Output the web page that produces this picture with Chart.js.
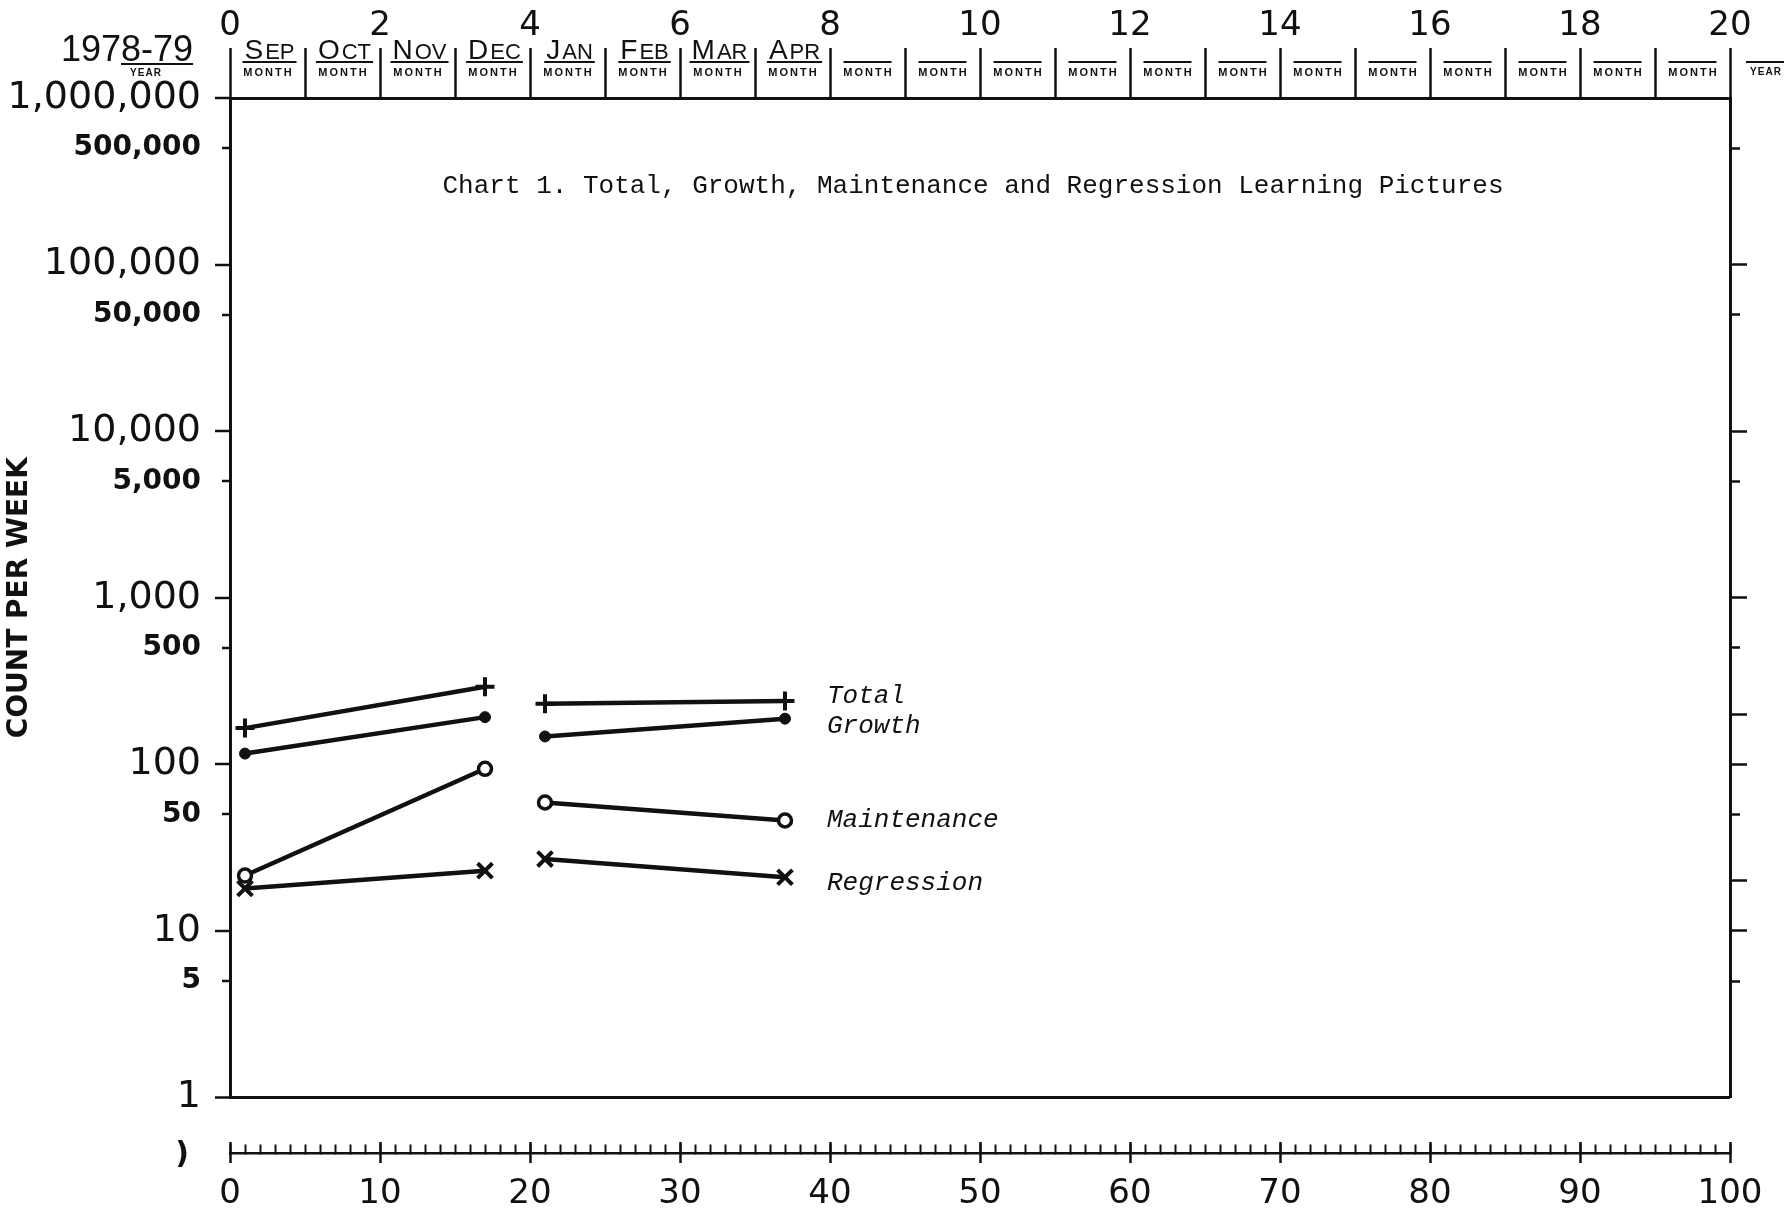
<!DOCTYPE html>
<html>
<head>
<meta charset="utf-8">
<script src="https://cdn.jsdelivr.net/npm/chart.js@4.4.1/dist/chart.umd.min.js"></script>
<style>
  html, body { margin: 0; padding: 0; background: #fff; }
  #wrap { width: 1787px; height: 1208px; }
</style>
</head>
<body>
<div id="wrap"><canvas id="chart" width="1787" height="1208"></canvas></div>
<script>
// Weeks on which the counts were taken (fall phase, then spring phase)
const weeks = [1, 17, 21, 37];
const phaseBreakAfter = 1;          // line is interrupted between these two phases

// Learning pictures counted per week
const totalCounts       = [165, 292, 231, 240];
const growthCounts      = [116, 192, 147, 188];
const maintenanceCounts = [21.5, 94, 59, 46];
const regressionCounts  = [18, 23, 27, 21];

const seriesNames = ['Total', 'Growth', 'Maintenance', 'Regression'];

// Count axis
const countTicks = [1, 5, 10, 50, 100, 500, 1000, 5000, 10000, 50000, 100000, 500000, 1000000];
const countTickLabels = ['1', '5', '10', '50', '100', '500', '1,000', '5,000', '10,000',
                         '50,000', '100,000', '500,000', '1,000,000'];
const rightTicks = [5, 10, 20, 50, 100, 200, 500, 1000, 5000, 10000, 50000, 100000, 500000];
const rightLongTicks = [10, 20, 100, 200, 1000, 10000, 100000];

// Time axes
const weekLabels = ['0', '10', '20', '30', '40', '50', '60', '70', '80', '90', '100'];
const monthNumberLabels = ['0', '2', '4', '6', '8', '10', '12', '14', '16', '18', '20'];
const monthNames = ['Sep', 'Oct', 'Nov', 'Dec', 'Jan', 'Feb', 'Mar', 'Apr'];
const monthSlots = 20;
const schoolYear = '1978-79';
const chartTitle = 'Chart 1. Total, Growth, Maintenance and Regression Learning Pictures';

const ink = '#111';

function toPoints(values) {
  const pts = [];
  values.forEach((v, i) => {
    pts.push({ x: weeks[i], y: v });
    if (i === phaseBreakAfter) {
      pts.push({ x: (weeks[i] + weeks[i + 1]) / 2, y: null });
    }
  });
  return pts;
}

function isDecade(v) {
  const l = Math.log10(v);
  return Math.abs(l - Math.round(l)) < 1e-9;
}

// Typed annotations: title, series names, month headings
const chartText = {
  id: 'chartText',
  afterDraw(chart, args, opts) {
    const ctx = chart.ctx;
    const xs = chart.scales.x, ys = chart.scales.y, xt = chart.scales.xt;
    ctx.save();
    ctx.fillStyle = ink;
    ctx.strokeStyle = ink;

    // title
    ctx.font = '26px "Liberation Mono"';
    ctx.textAlign = 'center';
    ctx.textBaseline = 'middle';
    ctx.fillText(chartTitle, 973, 186);

    // series names to the right of the last points
    ctx.font = 'italic 26px "Liberation Mono"';
    ctx.textAlign = 'left';
    opts.labels.forEach((lab, i) => {
      ctx.fillText(seriesNames[i], xs.getPixelForValue(lab.week), ys.getPixelForValue(lab.count));
    });

    // month heading boxes
    ctx.lineWidth = 2;
    for (let i = 0; i < monthSlots; i++) {
      const cx = (xt.getPixelForValue(i) + xt.getPixelForValue(i + 1)) / 2;
      const name = monthNames[i];
      ctx.letterSpacing = '0px';
      if (name) {
        const first = name[0], rest = name.slice(1).toUpperCase();
        ctx.textAlign = 'left';
        ctx.textBaseline = 'alphabetic';
        ctx.font = '28px "Liberation Sans"';
        const w1 = ctx.measureText(first).width;
        ctx.font = '22px "Liberation Sans"';
        const w2 = ctx.measureText(rest).width;
        const left = cx - (w1 + w2 + 2) / 2 + 2;
        ctx.font = '28px "Liberation Sans"';
        ctx.fillText(first, left, 59);
        ctx.font = '22px "Liberation Sans"';
        ctx.fillText(rest, left + w1 + 2, 59);
        ctx.beginPath();
        ctx.moveTo(left - 2, 62);
        ctx.lineTo(left + w1 + w2 + 4, 62);
        ctx.stroke();
      } else {
        ctx.beginPath();
        ctx.moveTo(cx - 24, 62);
        ctx.lineTo(cx + 24, 62);
        ctx.stroke();
      }
      ctx.font = 'bold 11px "Liberation Sans"';
      ctx.letterSpacing = '2px';
      ctx.textAlign = 'center';
      ctx.textBaseline = 'middle';
      ctx.fillText('MONTH', cx + 1, 73);
    }

    // school year box on the left
    ctx.letterSpacing = '0px';
    ctx.font = '36px "Liberation Sans"';
    ctx.textAlign = 'left';
    ctx.textBaseline = 'alphabetic';
    const yw = ctx.measureText(schoolYear).width;
    const yl = 127 - yw / 2;
    ctx.fillText(schoolYear, yl, 61);
    const uStart = yl + ctx.measureText(schoolYear.slice(0, 3)).width;
    ctx.beginPath();
    ctx.moveTo(uStart, 64);
    ctx.lineTo(yl + yw, 64);
    ctx.stroke();
    ctx.font = 'bold 10px "Liberation Sans"';
    ctx.letterSpacing = '1px';
    ctx.textAlign = 'center';
    ctx.textBaseline = 'middle';
    ctx.fillText('YEAR', 146, 73);

    // empty year box on the right
    ctx.beginPath();
    ctx.moveTo(1746, 62);
    ctx.lineTo(1784, 62);
    ctx.stroke();
    ctx.fillText('YEAR', 1766, 72);

    // bracket at the start of the week axis
    ctx.letterSpacing = '0px';
    ctx.font = 'bold 30px "DejaVu Sans"';
    ctx.fillText(')', 182, 1155);

    ctx.restore();
  }
};

const chart = new Chart(document.getElementById('chart'), {
  type: 'line',
  data: {
    datasets: [
      { label: seriesNames[0], data: toPoints(totalCounts), xAxisID: 'x', yAxisID: 'y',
        borderColor: ink, backgroundColor: ink, borderWidth: 4.5,
        pointStyle: 'cross', pointRadius: 9.5, pointBorderWidth: 4 },
      { label: seriesNames[1], data: toPoints(growthCounts), xAxisID: 'x', yAxisID: 'y',
        borderColor: ink, backgroundColor: ink, borderWidth: 4.5,
        pointStyle: 'circle', pointRadius: 5.5, pointBorderWidth: 1, pointBackgroundColor: ink },
      { label: seriesNames[2], data: toPoints(maintenanceCounts), xAxisID: 'x', yAxisID: 'y',
        borderColor: ink, backgroundColor: '#fff', borderWidth: 4.5,
        pointStyle: 'circle', pointRadius: 6.5, pointBorderWidth: 3.5, pointBackgroundColor: '#fff' },
      { label: seriesNames[3], data: toPoints(regressionCounts), xAxisID: 'x', yAxisID: 'y',
        borderColor: ink, backgroundColor: ink, borderWidth: 4.5,
        pointStyle: 'crossRot', pointRadius: 10.5, pointBorderWidth: 4 }
    ]
  },
  options: {
    responsive: false,
    animation: false,
    events: [],
    spanGaps: false,
    layout: { autoPadding: false, padding: { left: 0, right: 0, top: 0, bottom: 110.5 } },
    plugins: {
      legend: { display: false },
      tooltip: { enabled: false },
      chartText: {
        labels: [
          { week: 39.8, count: 258 },
          { week: 39.8, count: 170 },
          { week: 39.8, count: 46.5 },
          { week: 39.8, count: 19.4 }
        ]
      }
    },
    scales: {
      x: { type: 'linear', min: 0, max: 100, display: false },
      xt: {
        type: 'linear', position: 'top', min: 0, max: monthSlots,
        afterBuildTicks: s => { s.ticks = Array.from({ length: monthSlots + 1 }, (_, i) => ({ value: i })); },
        afterFit: s => { s.height = 98; },
        border: { display: true, color: ink, width: 3 },
        grid: { drawOnChartArea: false, tickLength: 50, color: ink, tickColor: ink, tickWidth: 2.5 },
        ticks: {
          autoSkip: false, maxRotation: 0, minRotation: 0, padding: 1, color: ink,
          font: { family: 'DejaVu Sans', size: 34 },
          callback: v => (v % 2 === 0 ? monthNumberLabels[v / 2] : '')
        }
      },
      // minor week ticks standing on the axis line
      xb: {
        type: 'linear', position: { y: 0.4642 }, min: 0, max: 100,
        afterBuildTicks: s => { s.ticks = Array.from({ length: 101 }, (_, i) => ({ value: i })); },
        border: { display: true, color: ink, width: 2.5 },
        grid: { drawOnChartArea: false, tickLength: -10, color: ink, tickColor: ink, tickWidth: 2 },
        ticks: { display: false, autoSkip: false }
      },
      // every tenth week: tick crossing the line, with its number
      xm: {
        type: 'linear', position: { y: 0.5407 }, min: 0, max: 100,
        afterBuildTicks: s => { s.ticks = weekLabels.map((_, i) => ({ value: i * 10 })); },
        border: { display: false },
        grid: { drawOnChartArea: false, tickLength: 21, color: ink, tickColor: ink, tickWidth: 2.5 },
        ticks: {
          autoSkip: false, maxRotation: 0, minRotation: 0, padding: 11, color: ink,
          font: { family: 'DejaVu Sans', size: 34 },
          callback: (v, i) => weekLabels[i]
        }
      },
      y: {
        type: 'logarithmic', position: 'left', min: 1, max: 1000000,
        afterBuildTicks: s => { s.ticks = countTicks.map(v => ({ value: v })); },
        afterFit: s => { s.width = 230; },
        border: { display: true, color: ink, width: 3 },
        grid: {
          drawOnChartArea: true, color: ink,
          lineWidth: c => (c.tick && c.tick.value === 1 ? 3 : 0),
          tickLength: 15, tickColor: ink, tickWidth: 2.5,
          tickBorderDash: c => (c.tick && !isDecade(c.tick.value) ? [8, 7] : []),
          tickBorderDashOffset: c => (c.tick && !isDecade(c.tick.value) ? 8 : 0)
        },
        ticks: {
          autoSkip: false, padding: 14, color: ink,
          callback: (v, i) => countTickLabels[i],
          font: c => (c.tick && isDecade(c.tick.value)
            ? { family: 'DejaVu Sans', size: 38 }
            : { family: 'DejaVu Sans', size: 28, weight: 'bold' })
        },
        title: {
          display: true, text: 'COUNT PER WEEK', color: ink,
          font: { family: 'DejaVu Sans', size: 28, weight: 'bold' },
          padding: { top: 3, bottom: 0 }
        }
      },
      yr: {
        type: 'logarithmic', position: 'right', min: 1, max: 1000000,
        afterBuildTicks: s => { s.ticks = rightTicks.map(v => ({ value: v })); },
        afterFit: s => { s.width = 57; },
        border: { display: true, color: ink, width: 3 },
        grid: {
          drawOnChartArea: false, color: ink, tickLength: 17, tickColor: ink, tickWidth: 2.5,
          tickBorderDash: c => (c.tick && !rightLongTicks.includes(c.tick.value) ? [8, 40] : [])
        },
        ticks: { display: false, autoSkip: false }
      }
    }
  },
  plugins: [chartText]
});
</script>
</body>
</html>
